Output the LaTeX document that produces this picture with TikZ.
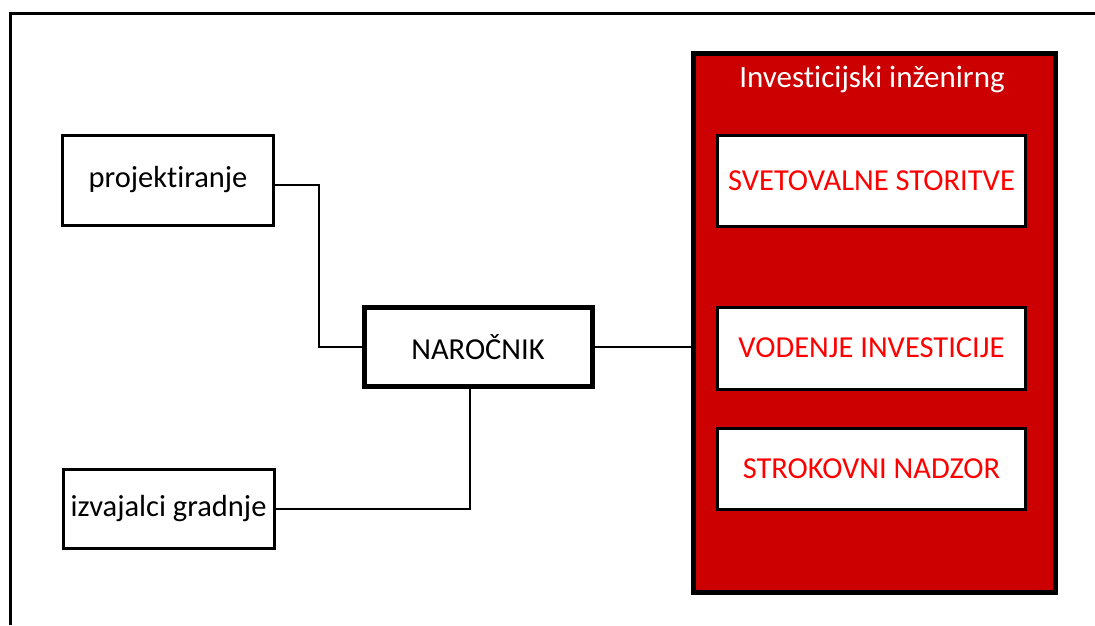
\documentclass[tikz,border=0pt]{standalone}
\usepackage{fontspec}
\setmainfont{Carlito}[Ligatures=NoCommon]
\definecolor{ingred}{HTML}{CC0000}
\definecolor{txtred}{HTML}{FF0000}
\tikzset{
  wire/.style={draw=black, line width=2pt},
  partybox/.style={draw=black, fill=white, line width=3pt, inner sep=0pt,
    font=\fontsize{30.5}{36}\selectfont},
  mainbox/.style={partybox, line width=5pt},
  servicebox/.style={partybox, text=txtred, minimum width=308pt}
}
\begin{document}
\begin{tikzpicture}[x=1pt,y=-1pt]
\useasboundingbox (0,0) rectangle (1095,625);
% Drawing frame
\draw[line width=3pt] (10.5,625) -- (10.5,13.7) -- (1095,13.7);
% Drawing parties
\node[partybox, minimum width=211pt, minimum height=90pt] (proj) at (168,180) {projektiranje};
\node[partybox, minimum width=211pt, minimum height=79pt] (izv) at (168.5,508.5) {izvajalci gradnje};
\node[mainbox, minimum width=228pt, minimum height=79pt] (nar) at (478,347) {NARO\v{C}NIK};
% Drawing engineering block
\node[draw=black, fill=ingred, line width=5pt, minimum width=362pt, minimum height=539pt, inner sep=0pt] (ing) at (874.5,322.5) {};
\node[text=white, font=\fontsize{31}{36}\selectfont] (ingtitle) at (872,79) {Investicijski in\v{z}enirng};
\node[servicebox, minimum height=91pt] (svet) at (871.5,180.5) {SVETOVALNE STORITVE};
\node[servicebox, minimum height=82pt] (vod) at (871.5,348) {VODENJE INVESTICIJE};
\node[servicebox, minimum height=81pt] (strok) at (871.5,468.5) {STROKOVNI NADZOR};
% Drawing wires
\draw[wire] ([yshift=-5pt]proj.east) -| ([xshift=-43pt]nar.west) -- (nar.west);
\draw[wire] (izv.east) -| ([xshift=-8pt]nar.south);
\draw[wire] (nar.east) -- (nar.east -| ing.west);
\end{tikzpicture}
\end{document}
